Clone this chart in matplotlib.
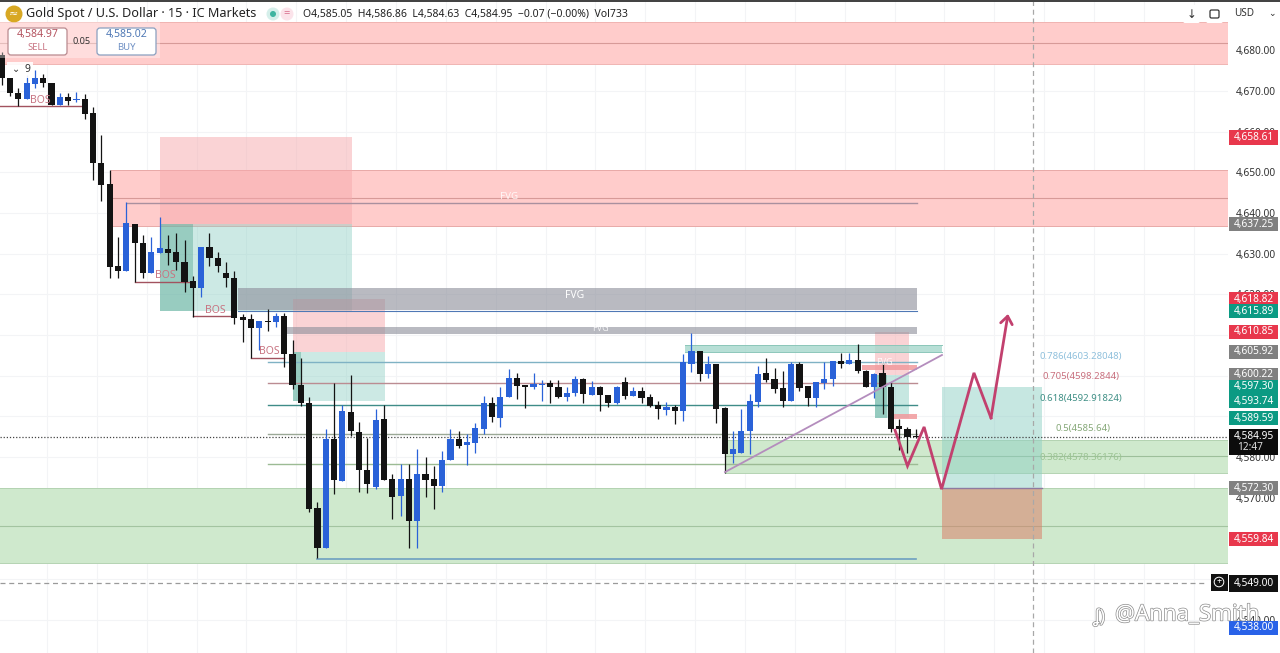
import matplotlib
matplotlib.use("Agg")
import matplotlib.pyplot as plt
import matplotlib.patheffects as pe
from matplotlib.patches import Rectangle, FancyBboxPatch, Circle

plt.rcParams['font.family'] = ['Noto Sans', 'DejaVu Sans']

# 15 minute gold candles
opens = [4678.9, 4673.2, 4669.5, 4668.1, 4671.8, 4673.2, 4672.0, 4666.6, 4668.6, 4667.8,
         4668.1, 4664.6, 4652.3, 4647.2, 4627.0, 4625.8, 4637.3, 4632.6, 4625.3, 4630.2,
         4631.2, 4630.4, 4628.0, 4623.3, 4621.6, 4631.7, 4629.0, 4625.3, 4624.0, 4614.4,
         4614.0, 4611.7, 4613.5, 4613.2, 4614.7, 4605.3, 4597.7, 4593.3, 4567.5, 4557.6,
         4584.4, 4574.1, 4591.1, 4586.2, 4576.8, 4572.6, 4589.4, 4574.6, 4570.4, 4574.6,
         4564.3, 4575.8, 4574.6, 4572.9, 4579.3, 4584.4, 4583.0, 4583.4, 4586.9, 4593.3,
         4589.6, 4594.8, 4599.4, 4597.7, 4597.2, 4597.7, 4598.2, 4597.2, 4594.8, 4595.7,
         4599.2, 4595.3, 4597.2, 4595.3, 4593.3, 4598.5, 4595.0, 4596.2, 4594.8, 4592.8,
         4591.6, 4592.3, 4591.3, 4602.9, 4606.1, 4600.4, 4602.9, 4592.0, 4580.7, 4581.0,
         4586.4, 4593.5, 4600.7, 4599.2, 4597.0, 4593.8, 4602.9, 4597.5, 4594.5, 4598.2,
         4599.2, 4603.6, 4602.9, 4603.9, 4601.2, 4597.2, 4600.7, 4597.2, 4587.6, 4586.9, 4585.05]
closes = [4673.2, 4669.5, 4668.1, 4672.0, 4673.2, 4672.0, 4666.6, 4668.6, 4667.6, 4668.1,
          4664.4, 4652.3, 4646.9, 4626.7, 4625.8, 4637.6, 4632.6, 4625.3, 4630.4, 4631.4,
          4630.2, 4628.0, 4623.1, 4621.6, 4631.7, 4629.0, 4627.0, 4624.0, 4614.2, 4613.7,
          4611.7, 4613.5, 4613.3, 4614.7, 4605.3, 4597.7, 4593.3, 4567.2, 4557.6, 4584.4,
          4574.3, 4591.3, 4586.4, 4576.8, 4573.4, 4589.1, 4574.3, 4570.2, 4574.6, 4564.3,
          4575.8, 4574.3, 4572.9, 4579.3, 4584.4, 4582.7, 4583.7, 4587.1, 4593.3, 4589.8,
          4594.8, 4599.4, 4597.5, 4597.2, 4598.0, 4598.0, 4597.2, 4594.8, 4595.7, 4599.2,
          4595.5, 4597.2, 4595.3, 4593.3, 4597.2, 4595.0, 4596.2, 4594.5, 4592.5, 4591.8,
          4592.3, 4591.3, 4603.4, 4606.1, 4600.4, 4602.9, 4591.8, 4580.7, 4582.0, 4586.4,
          4593.8, 4600.4, 4598.9, 4596.7, 4593.8, 4602.9, 4597.0, 4594.5, 4598.5, 4599.2,
          4603.6, 4602.9, 4603.9, 4601.2, 4597.2, 4600.4, 4597.2, 4586.9, 4586.9, 4584.9, 4584.95]
highs = [4679.6, 4673.2, 4670.8, 4674.0, 4675.2, 4674.2, 4672.0, 4669.5, 4669.5, 4669.8,
         4669.3, 4666.1, 4659.2, 4650.6, 4634.1, 4642.7, 4637.3, 4634.6, 4634.1, 4639.0,
         4634.6, 4635.1, 4633.4, 4624.5, 4631.7, 4635.1, 4630.4, 4628.0, 4625.8, 4615.2,
         4615.2, 4613.5, 4616.4, 4615.4, 4615.4, 4608.8, 4604.4, 4594.8, 4568.9, 4586.9,
         4598.2, 4592.8, 4600.2, 4588.6, 4584.7, 4591.8, 4592.8, 4575.8, 4578.3, 4578.3,
         4582.0, 4580.0, 4577.8, 4581.5, 4586.9, 4586.4, 4585.7, 4588.4, 4595.0, 4594.8,
         4597.2, 4601.6, 4600.7, 4597.7, 4600.7, 4598.9, 4598.9, 4598.9, 4597.2, 4599.9,
         4599.4, 4598.7, 4597.5, 4595.3, 4597.5, 4599.7, 4597.2, 4597.2, 4595.5, 4593.8,
         4593.5, 4592.8, 4605.3, 4610.5, 4606.1, 4604.8, 4602.9, 4592.3, 4586.4, 4591.8,
         4595.5, 4602.4, 4604.4, 4601.9, 4601.2, 4603.4, 4603.4, 4597.5, 4598.5, 4603.4,
         4603.6, 4605.6, 4605.6, 4607.8, 4601.4, 4600.7, 4603.1, 4598.5, 4589.4, 4587.4, 4586.86]
lows = [4671.5, 4668.8, 4666.3, 4668.1, 4670.8, 4671.0, 4666.6, 4666.6, 4666.6, 4667.3,
        4663.1, 4648.1, 4643.0, 4624.0, 4624.0, 4625.8, 4623.1, 4624.0, 4625.3, 4630.2,
        4627.2, 4626.0, 4620.6, 4614.4, 4619.4, 4627.0, 4625.5, 4621.8, 4612.7, 4608.3,
        4604.4, 4606.3, 4611.0, 4612.0, 4602.1, 4596.7, 4592.5, 4566.5, 4555.2, 4557.6,
        4570.9, 4574.1, 4585.2, 4571.4, 4571.1, 4572.1, 4574.3, 4564.8, 4565.5, 4557.6,
        4557.6, 4570.2, 4567.2, 4571.4, 4579.3, 4582.2, 4578.0, 4581.0, 4585.7, 4588.6,
        4587.4, 4594.8, 4594.3, 4592.0, 4596.7, 4593.8, 4593.3, 4594.5, 4593.8, 4595.0,
        4593.3, 4595.3, 4591.3, 4592.3, 4593.0, 4594.3, 4595.0, 4593.3, 4592.3, 4589.4,
        4590.3, 4588.1, 4588.9, 4600.9, 4598.7, 4599.4, 4588.4, 4576.1, 4578.5, 4581.0,
        4580.7, 4592.3, 4598.5, 4595.7, 4592.3, 4593.8, 4596.2, 4592.5, 4592.3, 4596.7,
        4597.5, 4601.9, 4602.9, 4600.7, 4597.2, 4594.5, 4590.6, 4586.2, 4581.7, 4581.0, 4584.63]

price_ticks = [4540, 4550, 4560, 4570, 4580, 4590, 4600, 4610, 4620, 4630, 4640, 4650, 4660, 4670, 4680]
# these ones sit fully under a badge in the picture
hidden_ticks = [4550, 4560, 4590, 4600, 4610]

# fib levels
fib_labels = ['0.786(4603.28048)', '0.705(4598.2844)', '0.618(4592.91824)', '0.5(4585.64)', '0.382(4578.36176)']
fib_prices = [4603.28048, 4598.2844, 4592.91824, 4585.64, 4578.36176]
fib_colors = ['#7fb2c4', '#bb8c92', '#3f8c88', '#9aa896', '#9cbb94']
fib_text_colors = ['#8fc0dc', '#c9707e', '#3f8f85', '#86a878', '#9cc494']

# price badges on the right scale
badge_prices = [4658.61, 4637.25, 4618.82, 4615.89, 4610.85, 4605.92, 4600.22,
                4597.30, 4593.74, 4589.59, 4572.30, 4559.84, 4549.00, 4538.00]
badge_colors = ['#e8374c', '#808080', '#e8374c', '#0b9a83', '#e8374c', '#808080', '#808080',
                '#0b9a83', '#0b9a83', '#0b9a83', '#808080', '#e8374c', '#111111', '#2962e8']

# predicted path drawn by hand on the chart
path_bars = [107.5, 109.0, 111.0, 113.1, 117.0, 119.05]
path_prices = [4586.6, 4577.8, 4587.4, 4572.1, 4600.7, 4589.6]
path_tip = (121.1, 4615.2)

# bos marks: start bar, end bar, price
bos_start = [-1, 16, 23, 30]
bos_end = [10, 23, 28, 34]
bos_price = [4666.3, 4623.1, 4614.6, 4604.4]

up_color = '#2a62d8'
down_color = '#131313'
red_zone = '#ffcccb'
green_zone = '#cfe9cd'

fig = plt.figure(figsize=(12.8, 6.53), dpi=100)
ax = fig.add_axes([0, 0, 1228 / 1280, 1])
ax.set_xlim(-0.205, 147.57)
ax.set_ylim(4531.8, 4692.42)
for s in ax.spines.values():
    s.set_visible(False)

ax.set_xticks([5.45 + 6 * k for k in range(24)])
ax.set_yticks(price_ticks)
ax.set_yticklabels(['' if p in hidden_ticks else '{:,.2f}'.format(p) for p in price_ticks])
ax.yaxis.tick_right()
ax.tick_params(axis='y', length=0, pad=5.8, labelsize=7.3, labelcolor='#333333')
ax.tick_params(axis='x', length=0, labelbottom=False)
ax.grid(True, color='#f3f4f6', linewidth=0.8)
ax.set_axisbelow(True)


def zone(x0, x1, top, bottom, color, alpha=1.0, z=1.0, edge=None):
    ax.add_patch(Rectangle((x0, bottom), x1 - x0, top - bottom, facecolor=color, alpha=alpha,
                           edgecolor='none', zorder=z))
    if edge:
        ax.plot([x0, x1], [top, top], color=edge, lw=0.7, zorder=z + 0.01)
        ax.plot([x0, x1], [bottom, bottom], color=edge, lw=0.7, zorder=z + 0.01)


right = 147.57
left = -0.205

# big supply / demand zones
zone(left, right, 4687.1, 4676.7, red_zone, edge='#f0b4b2')
ax.plot([left, right], [4681.8, 4681.8], color='#d79a98', lw=0.8, zorder=1.1)
zone(13.1, right, 4650.6, 4636.9, red_zone, edge='#e8a9a7')
ax.plot([13.1, right], [4643.7, 4643.7], color='#d79a98', lw=0.8, zorder=1.1)
zone(left, right, 4572.4, 4553.9, green_zone, edge='#b4d3b2')
ax.plot([left, right], [4563.0, 4563.0], color='#a3c4a0', lw=0.8, zorder=1.1)
zone(87.0, right, 4584.2, 4576.1, green_zone, edge='#b4d3b2')
ax.plot([87.0, right], [4580.2, 4580.2], color='#9dbf9a', lw=0.8, zorder=1.1)
ax.plot([15.1, 110.1], [4642.5, 4642.5], color='#a9909f', lw=1.0, zorder=1.6)

# position boxes
zone(19.0, 42.2, 4658.61, 4637.25, '#f6a9ad', alpha=0.5, z=1.3)
zone(19.0, 42.2, 4637.25, 4615.89, '#8fd0c5', alpha=0.45, z=1.3)
zone(19.0, 23.0, 4637.25, 4615.89, '#5aa996', alpha=0.45, z=1.35)
zone(35.0, 46.1, 4618.82, 4605.92, '#f6a9ad', alpha=0.5, z=1.4)
zone(35.0, 46.1, 4605.92, 4593.74, '#8fd0c5', alpha=0.45, z=1.3)
zone(35.0, 36.0, 4605.92, 4593.74, '#5aa996', alpha=0.45, z=1.35)
zone(105.1, 109.2, 4610.85, 4600.22, '#f6a9ad', alpha=0.5, z=1.3)
zone(105.1, 109.2, 4600.22, 4589.59, '#8fd0c5', alpha=0.5, z=1.3)
zone(105.1, 106.5, 4600.22, 4589.59, '#5aa996', alpha=0.45, z=1.35)
zone(113.1, 125.2, 4597.30, 4572.30, '#8fd0c5', alpha=0.5, z=1.3)
zone(113.1, 125.2, 4572.30, 4559.84, '#d9806a', alpha=0.55, z=1.3)
ax.plot([113.1, 125.2], [4572.30, 4572.30], color='#8e7aa0', lw=1.0, zorder=1.5)

# gray and small fvg boxes
zone(28.4, 110.1, 4621.6, 4616.2, '#8b8d99', alpha=0.6, z=1.5)
ax.plot([28.4, 110.1], [4616.0, 4616.0], color='#4f78b5', lw=0.8, zorder=1.6)
zone(34.2, 110.1, 4612.0, 4610.3, '#8b8d99', alpha=0.6, z=1.5)
zone(82.2, 113.1, 4607.5, 4605.8, '#a5d8cc', alpha=0.8, z=1.5, edge='#8cc7ba')
zone(103.5, 110.1, 4602.6, 4601.4, '#f19a9d', alpha=0.85, z=1.5)
zone(107.4, 110.1, 4590.6, 4589.4, '#f19a9d', alpha=0.85, z=1.5)

# fib lines
for price, color in zip(fib_prices, fib_colors):
    ax.plot([32.0, 110.1], [price, price], color=color, lw=1.0, zorder=1.6)
label_bars = [124.9, 125.3, 124.9, 126.8, 124.9]
for text, price, color, bar in zip(fib_labels, fib_prices, fib_text_colors, label_bars):
    ax.text(bar, price + 1.5, text, color=color, fontsize=6.9, va='center', ha='left', zorder=5)

# bottom blue line, trend line
ax.plot([38, 110], [4554.9, 4554.9], color='#6d9fc0', lw=1.2, zorder=1.6)
ax.plot([87.04, 113.15], [4576.3, 4605.1], color='#b48dbd', lw=1.3, zorder=3.5)

# last price and crosshair
ax.axhline(4584.95, color='#444444', lw=0.9, ls=(0, (1, 1.5)), zorder=2)
ax.plot([left, 145], [4549, 4549], color='#9a9a9a', lw=0.9, ls=(0, (4, 3)), zorder=2)
ax.axvline(124.1, color='#a8a8a8', lw=0.9, ls=(0, (4, 3)), zorder=2)

# candles
for i in range(len(opens)):
    color = up_color if closes[i] >= opens[i] else down_color
    ax.plot([i, i], [lows[i], highs[i]], color=color, lw=0.9, zorder=3, solid_capstyle='butt')
    bottom = min(opens[i], closes[i])
    height = max(abs(closes[i] - opens[i]), 0.25)
    ax.add_patch(Rectangle((i - 0.37, bottom), 0.74, height, facecolor=color, edgecolor='none', zorder=3.1))

# bos marks
for start, end, price in zip(bos_start, bos_end, bos_price):
    ax.plot([start, end], [price, price], color='#a2525f', lw=1.0, zorder=2.5)
    ax.text((start + end) / 2 + 0.2, price + 1.5, 'BOS', color='#c87482', fontsize=7.5,
            ha='center', va='center', zorder=4)

# fvg labels
ax.text(61.0, 4644.0, 'FVG', color='white', fontsize=7, ha='center', va='center', zorder=4, alpha=0.85)
ax.text(69.0, 4621.2, 'FVG', color='white', fontsize=7.5, ha='center', va='top', zorder=4)
ax.text(72.0, 4611.7, 'FVG', color='white', fontsize=6.5, ha='center', va='center', zorder=4, alpha=0.8)
ax.text(106.2, 4603.3, 'FVG', color='white', fontsize=6.5, ha='center', va='center', zorder=4, alpha=0.85)

# hand drawn path
ax.plot(path_bars, path_prices, color='#c2406e', lw=2.0, zorder=4, solid_joinstyle='miter')
ax.annotate('', xy=path_tip, xytext=(path_bars[-1], path_prices[-1]), zorder=4,
            arrowprops=dict(arrowstyle='->,head_length=0.55,head_width=0.42', color='#c2406e', lw=2.0,
                            shrinkA=0, shrinkB=0))

# price badges, placed in axes x and data y
tr = ax.get_yaxis_transform()
x0 = 1229 / 1228
w = 49.5 / 1228
h = 3.5
for price, color in zip(badge_prices, badge_colors):
    ax.add_patch(Rectangle((x0, price - h / 2), w, h, transform=tr, facecolor=color, edgecolor='none',
                           clip_on=False, zorder=8))
    ax.text(x0 + w / 2, price, '{:,.2f}'.format(price), transform=tr, color='white', fontsize=7.3,
            ha='center', va='center', clip_on=False, zorder=9)

# the 4,549 badge is a bit taller
ax.add_patch(Rectangle((x0, 4549 - 2.1), w, 4.2, transform=tr, facecolor='#111111', edgecolor='none',
                       clip_on=False, zorder=7.5))

# last price badge with countdown
ax.add_patch(Rectangle((x0, 4580.5), w, 6.5, transform=tr, facecolor='#0c0c0c', edgecolor='none',
                       clip_on=False, zorder=8))
ax.text(x0 + w / 2, 4585.1, '4,584.95', transform=tr, color='white', fontsize=7.3,
        ha='center', va='center', clip_on=False, zorder=9)
ax.text(x0 + 0.0065, 4582.4, '12:47', transform=tr, color='#dddddd', fontsize=7.3,
        ha='left', va='center', clip_on=False, zorder=9)

# everything below lives in pixel style figure coords
ov = fig.add_axes([0, 0, 1, 1], facecolor='none')
ov.set_xlim(0, 1280)
ov.set_ylim(653, 0)
ov.axis('off')

ov.add_patch(Rectangle((0, 0), 1280, 1.6, facecolor='#444444', edgecolor='none'))
ov.add_patch(Circle((14, 14), 8.5, facecolor='#d8a823', edgecolor='none'))
ov.text(14, 14, '≈', color='white', fontsize=8, ha='center', va='center')
ov.text(26, 14, 'Gold Spot / U.S. Dollar · 15 · IC Markets', color='#222222', fontsize=9.1, va='center')
ov.add_patch(Circle((273, 14), 6.5, facecolor='#d5efea', edgecolor='none'))
ov.add_patch(Circle((273, 14), 3, facecolor='#3fb4a0', edgecolor='none'))
ov.add_patch(Circle((287, 14), 6.5, facecolor='#fbe3ea', edgecolor='none'))
ov.text(287, 14, '=', color='#d9708f', fontsize=8, ha='center', va='center')
ov.text(303, 14, 'O4,585.05  H4,586.86  L4,584.63  C4,584.95  −0.07 (−0.00%)  Vol733', color='#222222',
        fontsize=7.5, va='center')

# buy / sell panel
ov.add_patch(Rectangle((0, 22), 160, 36, facecolor='white', alpha=0.35, edgecolor='none'))
ov.add_patch(FancyBboxPatch((8, 28), 59, 27, boxstyle='round,pad=0,rounding_size=3', facecolor='white',
                            edgecolor='#b98a8f', lw=0.9))
ov.text(37.5, 35, '4,584.97', color='#b4535f', fontsize=7.6, ha='center', va='center')
ov.text(37.5, 47, 'SELL', color='#c87482', fontsize=6.8, ha='center', va='center')
ov.text(82, 41, '0.05', color='#333333', fontsize=6.5, ha='center', va='center')
ov.add_patch(FancyBboxPatch((97, 28), 59, 27, boxstyle='round,pad=0,rounding_size=3', facecolor='white',
                            edgecolor='#8aa0c0', lw=0.9))
ov.text(126.5, 35, '4,585.02', color='#4f78b5', fontsize=7.6, ha='center', va='center')
ov.text(126.5, 47, 'BUY', color='#6f90c4', fontsize=6.8, ha='center', va='center')
ov.add_patch(Rectangle((7, 62), 26, 16, facecolor='white', alpha=0.9, edgecolor='none', zorder=6))
ov.text(16, 70, '⌄', color='#333333', fontsize=7, ha='center', va='center', zorder=7)
ov.text(27, 69.5, '9', color='#333333', fontsize=7.5, ha='center', va='center', zorder=7)

# top right buttons
ov.add_patch(FancyBboxPatch((1183, 5), 17, 18, boxstyle='round,pad=0,rounding_size=2', facecolor='white',
                            edgecolor='none'))
ov.add_patch(FancyBboxPatch((1206, 5), 17, 18, boxstyle='round,pad=0,rounding_size=2', facecolor='white',
                            edgecolor='none'))
ov.text(1191.5, 14, '↓', color='#333333', fontsize=8.5, ha='center', va='center')
ov.add_patch(FancyBboxPatch((1210, 10), 9, 8, boxstyle='round,pad=0,rounding_size=1.5', facecolor='none',
                            edgecolor='#333333', lw=0.9))
ov.text(1234, 14, 'USD', color='#333333', fontsize=7.2, va='center')
ov.text(1272, 14, '⌄', color='#333333', fontsize=6.5, ha='center', va='center')

# plus button beside the 4,549 badge
ov.add_patch(Rectangle((1211, 574), 17, 17, facecolor='#111111', edgecolor='none'))
ov.add_patch(Circle((1219, 582), 4.8, facecolor='none', edgecolor='white', lw=0.7))
ov.text(1219, 581.8, '+', color='white', fontsize=6.5, ha='center', va='center')

# watermark
stroke = [pe.withStroke(linewidth=1.0, foreground='#8c8c8c')]
ov.text(1115, 615, '@Anna_Smith', color='white', fontsize=16, va='center', path_effects=stroke, zorder=10)
ov.text(1100, 617, 'ʆ)', color='white', fontsize=13, ha='center', va='center', path_effects=stroke, zorder=10)

fig.savefig('out.png', dpi=100)
